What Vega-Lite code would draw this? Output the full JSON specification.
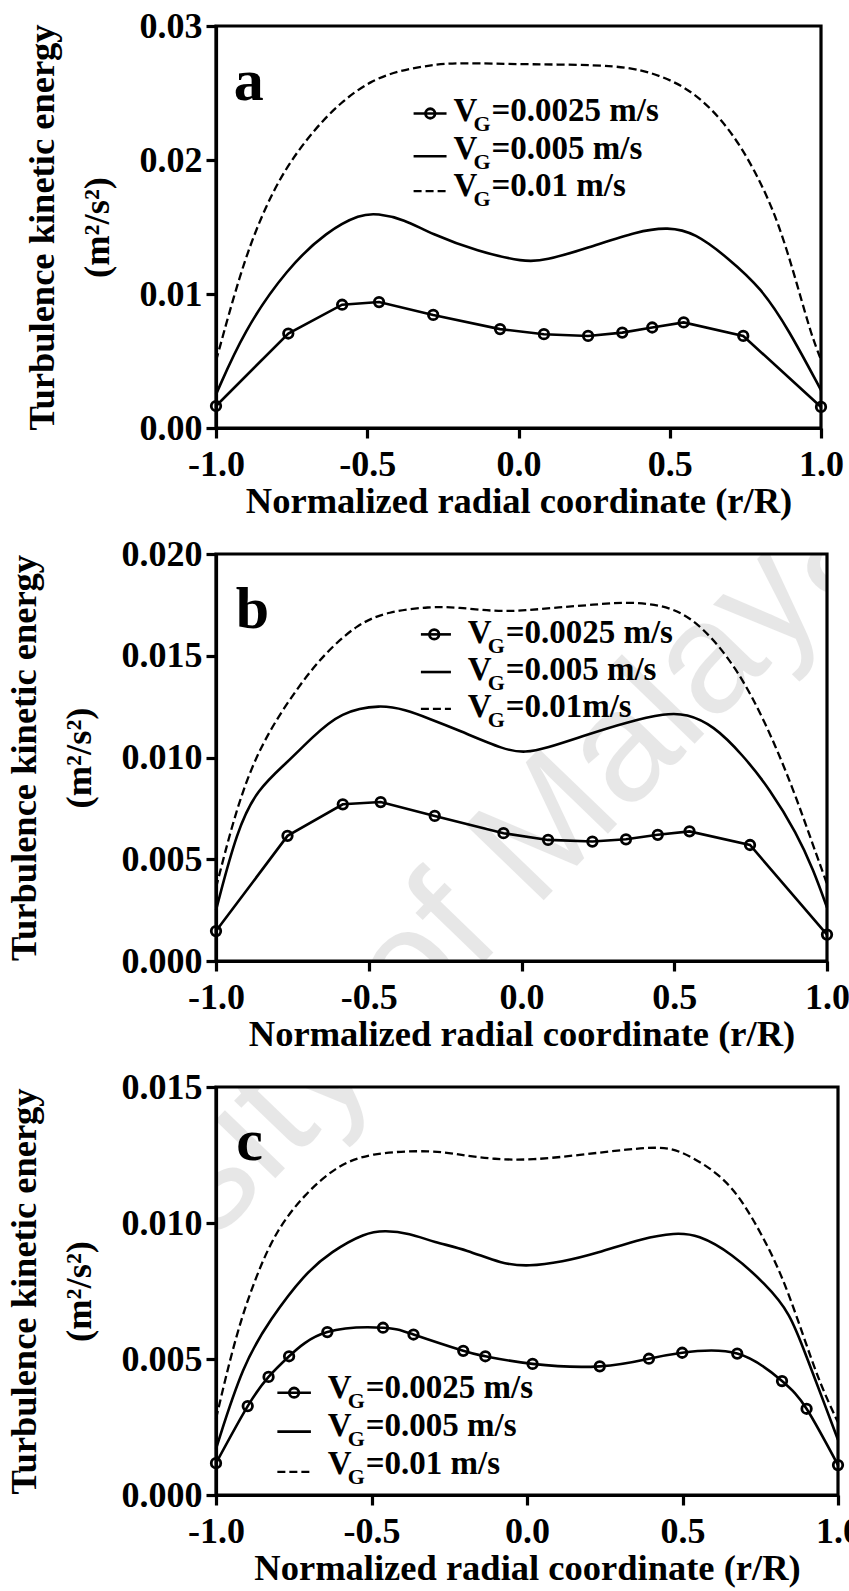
{
  "$schema": "https://vega.github.io/schema/vega-lite/v6.json",
  "background": "white",
  "padding": {"left": 4, "top": 6, "right": 5, "bottom": 3},
  "spacing": 12,
  "datasets": {
    "tke": [
      {"panel":"a","series":"0.0025","r":-1.0,"k":0.00164},
      {"panel":"a","series":"0.0025","r":-0.761,"k":0.00705},
      {"panel":"a","series":"0.0025","r":-0.583,"k":0.0092},
      {"panel":"a","series":"0.0025","r":-0.461,"k":0.0094},
      {"panel":"a","series":"0.0025","r":-0.282,"k":0.00844},
      {"panel":"a","series":"0.0025","r":-0.061,"k":0.00738},
      {"panel":"a","series":"0.0025","r":0.084,"k":0.0070},
      {"panel":"a","series":"0.0025","r":0.230,"k":0.00687},
      {"panel":"a","series":"0.0025","r":0.343,"k":0.00712},
      {"panel":"a","series":"0.0025","r":0.442,"k":0.0075},
      {"panel":"a","series":"0.0025","r":0.546,"k":0.00788},
      {"panel":"a","series":"0.0025","r":0.743,"k":0.00687},
      {"panel":"a","series":"0.0025","r":1.0,"k":0.00157},

      {"panel":"a","series":"0.005","r":-1.0,"k":0.0025},
      {"panel":"a","series":"0.005","r":-0.908,"k":0.00725},
      {"panel":"a","series":"0.005","r":-0.765,"k":0.01192},
      {"panel":"a","series":"0.005","r":-0.632,"k":0.0147},
      {"panel":"a","series":"0.005","r":-0.522,"k":0.01596},
      {"panel":"a","series":"0.005","r":-0.467,"k":0.01601},
      {"panel":"a","series":"0.005","r":-0.378,"k":0.01558},
      {"panel":"a","series":"0.005","r":-0.29,"k":0.0145},
      {"panel":"a","series":"0.005","r":-0.135,"k":0.01318},
      {"panel":"a","series":"0.005","r":0.02,"k":0.01238},
      {"panel":"a","series":"0.005","r":0.086,"k":0.01248},
      {"panel":"a","series":"0.005","r":0.229,"k":0.01344},
      {"panel":"a","series":"0.005","r":0.395,"k":0.0147},
      {"panel":"a","series":"0.005","r":0.494,"k":0.0150},
      {"panel":"a","series":"0.005","r":0.583,"k":0.01458},
      {"panel":"a","series":"0.005","r":0.693,"k":0.01268},
      {"panel":"a","series":"0.005","r":0.804,"k":0.01041},
      {"panel":"a","series":"0.005","r":0.892,"k":0.00738},
      {"panel":"a","series":"0.005","r":1.0,"k":0.00283},

      {"panel":"a","series":"0.01","r":-1.0,"k":0.0050},
      {"panel":"a","series":"0.01","r":-0.919,"k":0.01167},
      {"panel":"a","series":"0.01","r":-0.853,"k":0.0157},
      {"panel":"a","series":"0.01","r":-0.776,"k":0.01924},
      {"panel":"a","series":"0.01","r":-0.676,"k":0.02227},
      {"panel":"a","series":"0.01","r":-0.588,"k":0.0243},
      {"panel":"a","series":"0.01","r":-0.489,"k":0.02594},
      {"panel":"a","series":"0.01","r":-0.389,"k":0.0267},
      {"panel":"a","series":"0.01","r":-0.285,"k":0.0271},
      {"panel":"a","series":"0.01","r":-0.201,"k":0.02727},
      {"panel":"a","series":"0.01","r":0.03,"k":0.02712},
      {"panel":"a","series":"0.01","r":0.34,"k":0.02712},
      {"panel":"a","series":"0.01","r":0.472,"k":0.02632},
      {"panel":"a","series":"0.01","r":0.583,"k":0.02505},
      {"panel":"a","series":"0.01","r":0.693,"k":0.02253},
      {"panel":"a","series":"0.01","r":0.782,"k":0.01924},
      {"panel":"a","series":"0.01","r":0.859,"k":0.01545},
      {"panel":"a","series":"0.01","r":0.925,"k":0.01041},
      {"panel":"a","series":"0.01","r":0.969,"k":0.00687},
      {"panel":"a","series":"0.01","r":1.0,"k":0.0051},

      {"panel":"b","series":"0.0025","r":-1.0,"k":0.00147},
      {"panel":"b","series":"0.0025","r":-0.766,"k":0.00615},
      {"panel":"b","series":"0.0025","r":-0.585,"k":0.0077},
      {"panel":"b","series":"0.0025","r":-0.461,"k":0.00781},
      {"panel":"b","series":"0.0025","r":-0.284,"k":0.00713},
      {"panel":"b","series":"0.0025","r":-0.059,"k":0.00628},
      {"panel":"b","series":"0.0025","r":0.087,"k":0.00595},
      {"panel":"b","series":"0.0025","r":0.232,"k":0.00587},
      {"panel":"b","series":"0.0025","r":0.342,"k":0.00598},
      {"panel":"b","series":"0.0025","r":0.446,"k":0.0062},
      {"panel":"b","series":"0.0025","r":0.550,"k":0.00637},
      {"panel":"b","series":"0.0025","r":0.748,"k":0.0057},
      {"panel":"b","series":"0.0025","r":1.0,"k":0.0013},

      {"panel":"b","series":"0.005","r":-1.0,"k":0.0025},
      {"panel":"b","series":"0.005","r":-0.931,"k":0.00645},
      {"panel":"b","series":"0.005","r":-0.865,"k":0.00844},
      {"panel":"b","series":"0.005","r":-0.766,"k":0.00977},
      {"panel":"b","series":"0.005","r":-0.689,"k":0.01094},
      {"panel":"b","series":"0.005","r":-0.591,"k":0.01226},
      {"panel":"b","series":"0.005","r":-0.459,"k":0.0126},
      {"panel":"b","series":"0.005","r":-0.382,"k":0.01235},
      {"panel":"b","series":"0.005","r":-0.30,"k":0.0119},
      {"panel":"b","series":"0.005","r":-0.207,"k":0.01135},
      {"panel":"b","series":"0.005","r":-0.053,"k":0.01035},
      {"panel":"b","series":"0.005","r":0.013,"k":0.01024},
      {"panel":"b","series":"0.005","r":0.078,"k":0.01044},
      {"panel":"b","series":"0.005","r":0.210,"k":0.0111},
      {"panel":"b","series":"0.005","r":0.342,"k":0.01173},
      {"panel":"b","series":"0.005","r":0.473,"k":0.01218},
      {"panel":"b","series":"0.005","r":0.539,"k":0.01215},
      {"panel":"b","series":"0.005","r":0.627,"k":0.0116},
      {"panel":"b","series":"0.005","r":0.726,"k":0.0101},
      {"panel":"b","series":"0.005","r":0.813,"k":0.00844},
      {"panel":"b","series":"0.005","r":0.901,"k":0.00628},
      {"panel":"b","series":"0.005","r":0.956,"k":0.00446},
      {"panel":"b","series":"0.005","r":1.0,"k":0.00263},

      {"panel":"b","series":"0.01","r":-1.0,"k":0.0036},
      {"panel":"b","series":"0.01","r":-0.943,"k":0.00695},
      {"panel":"b","series":"0.01","r":-0.887,"k":0.00944},
      {"panel":"b","series":"0.01","r":-0.821,"k":0.01144},
      {"panel":"b","series":"0.01","r":-0.733,"k":0.01343},
      {"panel":"b","series":"0.01","r":-0.646,"k":0.01509},
      {"panel":"b","series":"0.01","r":-0.536,"k":0.01658},
      {"panel":"b","series":"0.01","r":-0.437,"k":0.01717},
      {"panel":"b","series":"0.01","r":-0.30,"k":0.01742},
      {"panel":"b","series":"0.01","r":-0.207,"k":0.01738},
      {"panel":"b","series":"0.01","r":-0.086,"k":0.01717},
      {"panel":"b","series":"0.01","r":0.013,"k":0.01722},
      {"panel":"b","series":"0.01","r":0.122,"k":0.01738},
      {"panel":"b","series":"0.01","r":0.232,"k":0.0175},
      {"panel":"b","series":"0.01","r":0.353,"k":0.01767},
      {"panel":"b","series":"0.01","r":0.496,"k":0.01742},
      {"panel":"b","series":"0.01","r":0.594,"k":0.01642},
      {"panel":"b","series":"0.01","r":0.704,"k":0.01443},
      {"panel":"b","series":"0.01","r":0.803,"k":0.0116},
      {"panel":"b","series":"0.01","r":0.890,"k":0.00844},
      {"panel":"b","series":"0.01","r":0.956,"k":0.00562},
      {"panel":"b","series":"0.01","r":1.0,"k":0.00379},

      {"panel":"c","series":"0.0025","r":-1.0,"k":0.00117},
      {"panel":"c","series":"0.0025","r":-0.898,"k":0.00327},
      {"panel":"c","series":"0.0025","r":-0.831,"k":0.00434},
      {"panel":"c","series":"0.0025","r":-0.765,"k":0.0051},
      {"panel":"c","series":"0.0025","r":-0.642,"k":0.00599},
      {"panel":"c","series":"0.0025","r":-0.463,"k":0.00615},
      {"panel":"c","series":"0.0025","r":-0.365,"k":0.0059},
      {"panel":"c","series":"0.0025","r":-0.205,"k":0.0053},
      {"panel":"c","series":"0.0025","r":-0.134,"k":0.0051},
      {"panel":"c","series":"0.0025","r":0.018,"k":0.00482},
      {"panel":"c","series":"0.0025","r":0.234,"k":0.00473},
      {"panel":"c","series":"0.0025","r":0.392,"k":0.00501},
      {"panel":"c","series":"0.0025","r":0.499,"k":0.00523},
      {"panel":"c","series":"0.0025","r":0.676,"k":0.0052},
      {"panel":"c","series":"0.0025","r":0.820,"k":0.00419},
      {"panel":"c","series":"0.0025","r":0.899,"k":0.00317},
      {"panel":"c","series":"0.0025","r":1.0,"k":0.0011},

      {"panel":"c","series":"0.005","r":-1.0,"k":0.0017},
      {"panel":"c","series":"0.005","r":-0.913,"k":0.00482},
      {"panel":"c","series":"0.005","r":-0.825,"k":0.00647},
      {"panel":"c","series":"0.005","r":-0.716,"k":0.00812},
      {"panel":"c","series":"0.005","r":-0.629,"k":0.00895},
      {"panel":"c","series":"0.005","r":-0.521,"k":0.00964},
      {"panel":"c","series":"0.005","r":-0.456,"k":0.00973},
      {"panel":"c","series":"0.005","r":-0.378,"k":0.00962},
      {"panel":"c","series":"0.005","r":-0.30,"k":0.0093},
      {"panel":"c","series":"0.005","r":-0.192,"k":0.00901},
      {"panel":"c","series":"0.005","r":-0.083,"k":0.0085},
      {"panel":"c","series":"0.005","r":0.005,"k":0.0084},
      {"panel":"c","series":"0.005","r":0.113,"k":0.00857},
      {"panel":"c","series":"0.005","r":0.223,"k":0.00888},
      {"panel":"c","series":"0.005","r":0.375,"k":0.00945},
      {"panel":"c","series":"0.005","r":0.474,"k":0.00964},
      {"panel":"c","series":"0.005","r":0.550,"k":0.00958},
      {"panel":"c","series":"0.005","r":0.659,"k":0.00888},
      {"panel":"c","series":"0.005","r":0.768,"k":0.00774},
      {"panel":"c","series":"0.005","r":0.845,"k":0.00672},
      {"panel":"c","series":"0.005","r":0.899,"k":0.00507},
      {"panel":"c","series":"0.005","r":0.954,"k":0.00343},
      {"panel":"c","series":"0.005","r":1.0,"k":0.00203},

      {"panel":"c","series":"0.01","r":-1.0,"k":0.0028},
      {"panel":"c","series":"0.01","r":-0.935,"k":0.00596},
      {"panel":"c","series":"0.01","r":-0.869,"k":0.00812},
      {"panel":"c","series":"0.01","r":-0.804,"k":0.00977},
      {"panel":"c","series":"0.01","r":-0.716,"k":0.01104},
      {"panel":"c","series":"0.01","r":-0.618,"k":0.01205},
      {"panel":"c","series":"0.01","r":-0.509,"k":0.01259},
      {"panel":"c","series":"0.01","r":-0.30,"k":0.01268},
      {"panel":"c","series":"0.01","r":-0.214,"k":0.0125},
      {"panel":"c","series":"0.01","r":-0.105,"k":0.01234},
      {"panel":"c","series":"0.01","r":0.015,"k":0.01231},
      {"panel":"c","series":"0.01","r":0.168,"k":0.0125},
      {"panel":"c","series":"0.01","r":0.332,"k":0.01272},
      {"panel":"c","series":"0.01","r":0.419,"k":0.01279},
      {"panel":"c","series":"0.01","r":0.485,"k":0.01272},
      {"panel":"c","series":"0.01","r":0.605,"k":0.01193},
      {"panel":"c","series":"0.01","r":0.681,"k":0.01104},
      {"panel":"c","series":"0.01","r":0.758,"k":0.00952},
      {"panel":"c","series":"0.01","r":0.823,"k":0.008},
      {"panel":"c","series":"0.01","r":0.889,"k":0.00584},
      {"panel":"c","series":"0.01","r":0.943,"k":0.00406},
      {"panel":"c","series":"0.01","r":1.0,"k":0.00267}
    ],
    "panels": [
      {"panel": "a", "letter": "a"},
      {"panel": "b", "letter": "b"},
      {"panel": "c", "letter": "c"}
    ]
  },
  "vconcat": [
    {
      "width": 605,
      "height": 402,
      "layer": [
        {"data": {"name": "tke"},
         "transform": [{"filter": "datum.panel === 'a' && datum.series === '0.01'"}],
         "mark": {"type": "line", "interpolate": "basis", "color": "black", "strokeWidth": 2.3, "strokeDash": [8, 4]},
         "encoding": {
           "x": {"field": "r", "type": "quantitative", "scale": {"domain": [-1, 1], "nice": false, "zero": false},
                 "axis": {"values": [-1, -0.5, 0, 0.5, 1], "labelExpr": "(datum.value < 0 ? '-' : '') + format(abs(datum.value), '.1f')", "title": "Normalized radial coordinate (r/R)"}},
           "y": {"field": "k", "type": "quantitative", "scale": {"domain": [0, 0.03], "nice": false},
                 "axis": {"values": [0, 0.01, 0.02, 0.03], "format": ".2f", "title": ["Turbulence kinetic energy", "(m²/s²)"]}}
         }},
        {"data": {"name": "tke"},
         "transform": [{"filter": "datum.panel === 'a' && datum.series === '0.005'"}],
         "mark": {"type": "line", "interpolate": "basis", "color": "black", "strokeWidth": 2.6},
         "encoding": {"x": {"field": "r", "type": "quantitative"}, "y": {"field": "k", "type": "quantitative"}}},
        {"data": {"name": "tke"},
         "transform": [{"filter": "datum.panel === 'a' && datum.series === '0.0025'"}],
         "mark": {"type": "line", "color": "black", "strokeWidth": 2.6},
         "encoding": {"x": {"field": "r", "type": "quantitative"}, "y": {"field": "k", "type": "quantitative"}}},
        {"data": {"name": "tke"},
         "transform": [{"filter": "datum.panel === 'a' && datum.series === '0.0025'"}],
         "mark": {"type": "point", "shape": "circle", "filled": false, "size": 90, "strokeWidth": 2.8, "color": "black", "opacity": 1},
         "encoding": {"x": {"field": "r", "type": "quantitative"}, "y": {"field": "k", "type": "quantitative"}}},
        {"data": {"name": "panels"}, "transform": [{"filter": "datum.panel === 'a'"}],
         "mark": {"type": "text", "fontSize": 60, "align": "left", "baseline": "alphabetic"},
         "encoding": {"text": {"field": "letter"}, "x": {"datum": -0.941}, "y": {"datum": 0.0245}}},
        {"data": {"name": "panels"}, "transform": [{"filter": "datum.panel === 'a'"}],
         "mark": {"type": "rule", "color": "black", "strokeWidth": 2.6},
         "encoding": {"x": {"datum": -0.3468}, "x2": {"datum": -0.2379}, "y": {"datum": 0.02347}}},
        {"data": {"name": "panels"}, "transform": [{"filter": "datum.panel === 'a'"}],
         "mark": {"type": "point", "shape": "circle", "filled": false, "size": 90, "strokeWidth": 2.8, "color": "black", "opacity": 1},
         "encoding": {"x": {"datum": -0.2917}, "y": {"datum": 0.02347}}},
        {"data": {"name": "panels"}, "transform": [{"filter": "datum.panel === 'a'"}],
         "mark": {"type": "rule", "color": "black", "strokeWidth": 2.6},
         "encoding": {"x": {"datum": -0.3468}, "x2": {"datum": -0.2379}, "y": {"datum": 0.02028}}},
        {"data": {"name": "panels"}, "transform": [{"filter": "datum.panel === 'a'"}],
         "mark": {"type": "rule", "color": "black", "strokeWidth": 2.3, "strokeDash": [8, 4]},
         "encoding": {"x": {"datum": -0.3468}, "x2": {"datum": -0.2379}, "y": {"datum": 0.01767}}},
        {"data": {"name": "panels"}, "transform": [{"filter": "datum.panel === 'a'"}],
         "mark": {"type": "text", "text": ["V", "V", "V"], "fontSize": 33, "lineHeight": 37.5, "align": "left", "baseline": "alphabetic"},
         "encoding": {"x": {"datum": -0.2148}, "y": {"datum": 0.0229}}},
        {"data": {"name": "panels"}, "transform": [{"filter": "datum.panel === 'a'"}],
         "mark": {"type": "text", "text": ["G", "G", "G"], "fontSize": 22, "lineHeight": 37.5, "align": "left", "baseline": "alphabetic", "dx": 20, "dy": 10},
         "encoding": {"x": {"datum": -0.2148}, "y": {"datum": 0.0229}}},
        {"data": {"name": "panels"}, "transform": [{"filter": "datum.panel === 'a'"}],
         "mark": {"type": "text", "text": ["=0.0025 m/s", "=0.005 m/s", "=0.01 m/s"], "fontSize": 33, "lineHeight": 37.5, "align": "left", "baseline": "alphabetic", "dx": 38},
         "encoding": {"x": {"datum": -0.2148}, "y": {"datum": 0.0229}}}
      ]
    },
    {
      "width": 611,
      "height": 407,
      "layer": [
        {"data": {"name": "panels"}, "transform": [{"filter": "datum.panel === 'b'"}],
         "mark": {"type": "text", "text": "University of Malaya", "font": "Liberation Sans", "fontWeight": "normal", "fontSize": 158, "angle": -46, "align": "center", "baseline": "middle", "color": "black", "opacity": 0.09, "clip": true},
         "encoding": {"x": {"datum": -0.526}, "y": {"datum": -0.003}}},
        {"data": {"name": "tke"},
         "transform": [{"filter": "datum.panel === 'b' && datum.series === '0.01'"}],
         "mark": {"type": "line", "interpolate": "basis", "color": "black", "strokeWidth": 2.3, "strokeDash": [8, 4]},
         "encoding": {
           "x": {"field": "r", "type": "quantitative", "scale": {"domain": [-1, 1], "nice": false, "zero": false},
                 "axis": {"values": [-1, -0.5, 0, 0.5, 1], "labelExpr": "(datum.value < 0 ? '-' : '') + format(abs(datum.value), '.1f')", "title": "Normalized radial coordinate (r/R)"}},
           "y": {"field": "k", "type": "quantitative", "scale": {"domain": [0, 0.02], "nice": false},
                 "axis": {"values": [0, 0.005, 0.01, 0.015, 0.02], "format": ".3f", "title": ["Turbulence kinetic energy", "(m²/s²)"]}}
         }},
        {"data": {"name": "tke"},
         "transform": [{"filter": "datum.panel === 'b' && datum.series === '0.005'"}],
         "mark": {"type": "line", "interpolate": "basis", "color": "black", "strokeWidth": 2.6},
         "encoding": {"x": {"field": "r", "type": "quantitative"}, "y": {"field": "k", "type": "quantitative"}}},
        {"data": {"name": "tke"},
         "transform": [{"filter": "datum.panel === 'b' && datum.series === '0.0025'"}],
         "mark": {"type": "line", "color": "black", "strokeWidth": 2.6},
         "encoding": {"x": {"field": "r", "type": "quantitative"}, "y": {"field": "k", "type": "quantitative"}}},
        {"data": {"name": "tke"},
         "transform": [{"filter": "datum.panel === 'b' && datum.series === '0.0025'"}],
         "mark": {"type": "point", "shape": "circle", "filled": false, "size": 90, "strokeWidth": 2.8, "color": "black", "opacity": 1},
         "encoding": {"x": {"field": "r", "type": "quantitative"}, "y": {"field": "k", "type": "quantitative"}}},
        {"data": {"name": "panels"}, "transform": [{"filter": "datum.panel === 'b'"}],
         "mark": {"type": "text", "fontSize": 60, "align": "left", "baseline": "alphabetic"},
         "encoding": {"text": {"field": "letter"}, "x": {"datum": -0.935}, "y": {"datum": 0.01634}}},
        {"data": {"name": "panels"}, "transform": [{"filter": "datum.panel === 'b'"}],
         "mark": {"type": "rule", "color": "black", "strokeWidth": 2.6},
         "encoding": {"x": {"datum": -0.3293}, "x2": {"datum": -0.231}, "y": {"datum": 0.01605}}},
        {"data": {"name": "panels"}, "transform": [{"filter": "datum.panel === 'b'"}],
         "mark": {"type": "point", "shape": "circle", "filled": false, "size": 90, "strokeWidth": 2.8, "color": "black", "opacity": 1},
         "encoding": {"x": {"datum": -0.2857}, "y": {"datum": 0.01605}}},
        {"data": {"name": "panels"}, "transform": [{"filter": "datum.panel === 'b'"}],
         "mark": {"type": "rule", "color": "black", "strokeWidth": 2.6},
         "encoding": {"x": {"datum": -0.3293}, "x2": {"datum": -0.231}, "y": {"datum": 0.0142}}},
        {"data": {"name": "panels"}, "transform": [{"filter": "datum.panel === 'b'"}],
         "mark": {"type": "rule", "color": "black", "strokeWidth": 2.3, "strokeDash": [8, 4]},
         "encoding": {"x": {"datum": -0.3293}, "x2": {"datum": -0.231}, "y": {"datum": 0.01239}}},
        {"data": {"name": "panels"}, "transform": [{"filter": "datum.panel === 'b'"}],
         "mark": {"type": "text", "text": ["V", "V", "V"], "fontSize": 33, "lineHeight": 37.2, "align": "left", "baseline": "alphabetic"},
         "encoding": {"x": {"datum": -0.1763}, "y": {"datum": 0.01564}}},
        {"data": {"name": "panels"}, "transform": [{"filter": "datum.panel === 'b'"}],
         "mark": {"type": "text", "text": ["G", "G", "G"], "fontSize": 22, "lineHeight": 37.2, "align": "left", "baseline": "alphabetic", "dx": 20, "dy": 10},
         "encoding": {"x": {"datum": -0.1763}, "y": {"datum": 0.01564}}},
        {"data": {"name": "panels"}, "transform": [{"filter": "datum.panel === 'b'"}],
         "mark": {"type": "text", "text": ["=0.0025 m/s", "=0.005 m/s", "=0.01m/s"], "fontSize": 33, "lineHeight": 37.2, "align": "left", "baseline": "alphabetic", "dx": 38},
         "encoding": {"x": {"datum": -0.1763}, "y": {"datum": 0.01564}}}
      ]
    },
    {
      "width": 622,
      "height": 408,
      "layer": [
        {"data": {"name": "panels"}, "transform": [{"filter": "datum.panel === 'c'"}],
         "mark": {"type": "text", "text": "University of Malaya", "font": "Liberation Sans", "fontWeight": "normal", "fontSize": 158, "angle": -46, "align": "center", "baseline": "middle", "color": "black", "opacity": 0.09, "clip": true},
         "encoding": {"x": {"datum": -0.549}, "y": {"datum": 0.01722}}},
        {"data": {"name": "tke"},
         "transform": [{"filter": "datum.panel === 'c' && datum.series === '0.01'"}],
         "mark": {"type": "line", "interpolate": "basis", "color": "black", "strokeWidth": 2.3, "strokeDash": [8, 4]},
         "encoding": {
           "x": {"field": "r", "type": "quantitative", "scale": {"domain": [-1, 1], "nice": false, "zero": false},
                 "axis": {"values": [-1, -0.5, 0, 0.5, 1], "labelExpr": "(datum.value < 0 ? '-' : '') + format(abs(datum.value), '.1f')", "title": "Normalized radial coordinate (r/R)"}},
           "y": {"field": "k", "type": "quantitative", "scale": {"domain": [0, 0.015], "nice": false},
                 "axis": {"values": [0, 0.005, 0.01, 0.015], "format": ".3f", "title": ["Turbulence kinetic energy", "(m²/s²)"]}}
         }},
        {"data": {"name": "tke"},
         "transform": [{"filter": "datum.panel === 'c' && datum.series === '0.005'"}],
         "mark": {"type": "line", "interpolate": "basis", "color": "black", "strokeWidth": 2.6},
         "encoding": {"x": {"field": "r", "type": "quantitative"}, "y": {"field": "k", "type": "quantitative"}}},
        {"data": {"name": "tke"},
         "transform": [{"filter": "datum.panel === 'c' && datum.series === '0.0025'"}],
         "mark": {"type": "line", "interpolate": "natural", "color": "black", "strokeWidth": 2.6},
         "encoding": {"x": {"field": "r", "type": "quantitative"}, "y": {"field": "k", "type": "quantitative"}}},
        {"data": {"name": "tke"},
         "transform": [{"filter": "datum.panel === 'c' && datum.series === '0.0025'"}],
         "mark": {"type": "point", "shape": "circle", "filled": false, "size": 90, "strokeWidth": 2.8, "color": "black", "opacity": 1},
         "encoding": {"x": {"field": "r", "type": "quantitative"}, "y": {"field": "k", "type": "quantitative"}}},
        {"data": {"name": "panels"}, "transform": [{"filter": "datum.panel === 'c'"}],
         "mark": {"type": "text", "fontSize": 60, "align": "left", "baseline": "alphabetic"},
         "encoding": {"text": {"field": "letter"}, "x": {"datum": -0.935}, "y": {"datum": 0.0123}}},
        {"data": {"name": "panels"}, "transform": [{"filter": "datum.panel === 'c'"}],
         "mark": {"type": "rule", "color": "black", "strokeWidth": 2.6},
         "encoding": {"x": {"datum": -0.8027}, "x2": {"datum": -0.6948}, "y": {"datum": 0.00376}}},
        {"data": {"name": "panels"}, "transform": [{"filter": "datum.panel === 'c'"}],
         "mark": {"type": "point", "shape": "circle", "filled": false, "size": 90, "strokeWidth": 2.8, "color": "black", "opacity": 1},
         "encoding": {"x": {"datum": -0.7489}, "y": {"datum": 0.00376}}},
        {"data": {"name": "panels"}, "transform": [{"filter": "datum.panel === 'c'"}],
         "mark": {"type": "rule", "color": "black", "strokeWidth": 2.6},
         "encoding": {"x": {"datum": -0.8027}, "x2": {"datum": -0.6948}, "y": {"datum": 0.00233}}},
        {"data": {"name": "panels"}, "transform": [{"filter": "datum.panel === 'c'"}],
         "mark": {"type": "rule", "color": "black", "strokeWidth": 2.3, "strokeDash": [8, 4]},
         "encoding": {"x": {"datum": -0.8027}, "x2": {"datum": -0.6948}, "y": {"datum": 0.00085}}},
        {"data": {"name": "panels"}, "transform": [{"filter": "datum.panel === 'c'"}],
         "mark": {"type": "text", "text": ["V", "V", "V"], "fontSize": 33, "lineHeight": 38, "align": "left", "baseline": "alphabetic"},
         "encoding": {"x": {"datum": -0.6407}, "y": {"datum": 0.00355}}},
        {"data": {"name": "panels"}, "transform": [{"filter": "datum.panel === 'c'"}],
         "mark": {"type": "text", "text": ["G", "G", "G"], "fontSize": 22, "lineHeight": 38, "align": "left", "baseline": "alphabetic", "dx": 20, "dy": 10},
         "encoding": {"x": {"datum": -0.6407}, "y": {"datum": 0.00355}}},
        {"data": {"name": "panels"}, "transform": [{"filter": "datum.panel === 'c'"}],
         "mark": {"type": "text", "text": ["=0.0025 m/s", "=0.005 m/s", "=0.01 m/s"], "fontSize": 33, "lineHeight": 38, "align": "left", "baseline": "alphabetic", "dx": 38},
         "encoding": {"x": {"datum": -0.6407}, "y": {"datum": 0.00355}}}
      ]
    }
  ],
  "config": {
    "font": "Liberation Serif",
    "view": {"stroke": "black", "strokeWidth": 3.2},
    "text": {"font": "Liberation Serif", "fontWeight": "bold", "color": "black"},
    "axis": {
      "grid": false,
      "domainColor": "black", "domainWidth": 3.2,
      "tickColor": "black", "tickWidth": 3.2, "tickSize": 10,
      "labelFont": "Liberation Serif", "labelFontSize": 36, "labelFontWeight": "bold", "labelColor": "black",
      "labelFlush": false, "labelOverlap": false,
      "titleFont": "Liberation Serif", "titleFontSize": 36.5, "titleFontWeight": "bold", "titleColor": "black"
    },
    "axisX": {"labelPadding": 9, "titlePadding": 1},
    "axisY": {"labelPadding": 4, "titlePadding": 23, "titleLineHeight": 55}
  }
}
